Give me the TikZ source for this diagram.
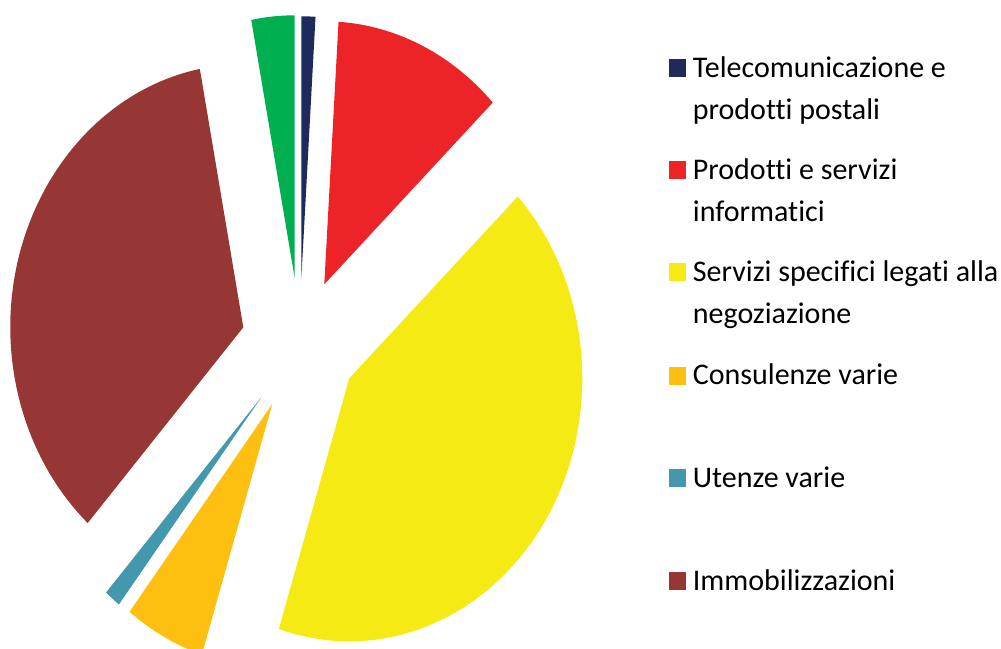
\documentclass[tikz,border=0pt]{standalone}
\usepackage{fontspec}
\setmainfont[Ligatures=NoCommon]{Carlito}
\definecolor{cnavy}{RGB}{31,42,92}
\definecolor{cred}{RGB}{237,36,39}
\definecolor{cyellow}{RGB}{245,234,20}
\definecolor{corange}{RGB}{253,192,16}
\definecolor{cteal}{RGB}{67,152,174}
\definecolor{cbrown}{RGB}{150,55,53}
\definecolor{cgreen}{RGB}{0,175,79}
\begin{document}
\begin{tikzpicture}[x=1pt,y=1pt,
  legsq/.style={inner sep=0pt,minimum width=17pt,minimum height=18pt,anchor=south west},
  legtxt/.style={inner sep=0pt,anchor=base west,font=\fontsize{30}{42}\selectfont}]
\useasboundingbox (0,0) rectangle (1001,648);
\clip (0,0) rectangle (1001,648);
\def\rx{233}\def\ry{263}
% slices: apex, start angle, end angle
\fill[cnavy]   (301.3,368.7) -- +(86.5:\rx pt and \ry pt) arc[start angle=86.5,end angle=90,x radius=\rx,y radius=\ry] -- cycle;
\fill[cred]    (324.3,363.7) -- +(43.7:\rx pt and \ry pt) arc[start angle=43.7,end angle=86.5,x radius=\rx,y radius=\ry] -- cycle;
\fill[cyellow] (349.3,269.7) -- +(-107.6:\rx pt and \ry pt) arc[start angle=-107.6,end angle=43.7,x radius=\rx,y radius=\ry] -- cycle;
\fill[corange] (272.3,244) -- +(-127.8:\rx pt and \ry pt) arc[start angle=-127.8,end angle=-107.6,x radius=\rx,y radius=\ry] -- cycle;
\fill[cteal]   (261.7,251.3) -- +(-131.9:\rx pt and \ry pt) arc[start angle=-131.9,end angle=-127.8,x radius=\rx,y radius=\ry] -- cycle;
\fill[cbrown]  (243.3,320.7) -- +(100.75:\rx pt and \ry pt) arc[start angle=100.75,end angle=228.1,x radius=\rx,y radius=\ry] -- cycle;
\fill[cgreen]  (294.7,369.7) -- +(90:\rx pt and \ry pt) arc[start angle=90,end angle=100.75,x radius=\rx,y radius=\ry] -- cycle;
% legend
\node[legsq,fill=cnavy]   (s1) at (668.3,570.7) {};
\node[legtxt] (t1a) at (692.7,570.7) {Telecomunicazione e};
\node[legtxt] (t1b) at (692.7,528.7) {prodotti postali};
\node[legsq,fill=cred]    (s2) at (668.3,468.7) {};
\node[legtxt] (t2a) at (692.7,468.7) {Prodotti e servizi};
\node[legtxt] (t2b) at (692.7,426.3) {informatici};
\node[legsq,fill=cyellow] (s3) at (668.3,366.3) {};
\node[legtxt] (t3a) at (692.7,366.3) {Servizi specifici legati alla};
\node[legtxt] (t3b) at (692.7,324.7) {negoziazione};
\node[legsq,fill=corange] (s4) at (668.3,263) {};
\node[legtxt] (t4a) at (692.7,263) {Consulenze varie};
\node[legsq,fill=cteal]   (s5) at (668.3,160.3) {};
\node[legtxt] (t5a) at (692.7,160.3) {Utenze varie};
\node[legsq,fill=cbrown]  (s6) at (668.3,58) {};
\node[legtxt] (t6a) at (692.7,58) {Immobilizzazioni};
\end{tikzpicture}
\end{document}
